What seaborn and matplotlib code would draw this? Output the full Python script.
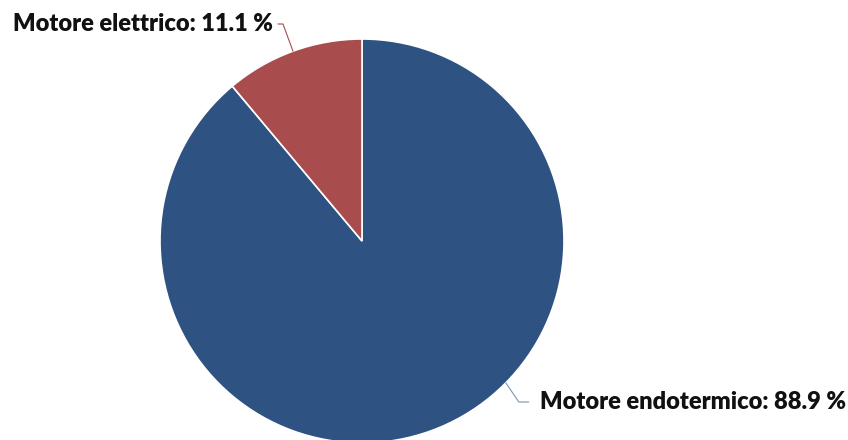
import numpy as np
import matplotlib
matplotlib.use("Agg")
import matplotlib.pyplot as plt
import seaborn as sns

# --- Data --------------------------------------------------------------------
labels = ["Motore endotermico", "Motore elettrico"]
shares = [88.9, 11.1]
colors = ["#2e5281", "#a84c4e"]

# --- Layout (pixel units, y measured upwards) --------------------------------
W, H = 848, 440
CX, CY, R = 362, 440 - 241, 202

sns.set_theme(style="white")
plt.rcParams["font.family"] = ["Lato", "DejaVu Sans"]

fig = plt.figure(figsize=(W / 100, H / 100), dpi=100)
ax = fig.add_axes([0, 0, 1, 1])

wedges, _ = ax.pie(
    shares,
    colors=sns.color_palette(colors),
    startangle=90,
    counterclock=False,
    center=(CX, CY),
    radius=R,
    frame=True,
    wedgeprops=dict(edgecolor="white", linewidth=1.2),
)

ax.set_xlim(0, W)
ax.set_ylim(0, H)
ax.set_aspect("equal")
ax.axis("off")


def edge_point(angle_deg):
    a = np.deg2rad(angle_deg)
    return CX + R * np.cos(a), CY + R * np.sin(a)


# Motore elettrico: connector from the wedge middle, label top-left
w = wedges[1]
mid = (w.theta1 + w.theta2) / 2
x0, y0 = edge_point(mid)
x1, y1 = x0 - 10, H - 24
ax.plot([x0, x1, x1 - 5], [y0, y1, y1], color=colors[1], lw=0.8)
ax.text(x1 - 10, y1, f"{labels[1]}: {shares[1]:.1f} %", ha="right", va="center",
        fontsize=17, fontweight="heavy", color="#111111")

# Motore endotermico: connector lower right, label to the right
x0, y0 = edge_point(-44.6)
x1, y1 = x0 + 13, H - 402
ax.plot([x0, x1, x1 + 10], [y0, y1, y1], color="#7f93ad", lw=0.8)
ax.text(x1 + 21, y1, f"{labels[0]}: {shares[0]:.1f} %", ha="left", va="center",
        fontsize=17, fontweight="heavy", color="#111111")

fig.savefig("out.png", dpi=100)
plt.close(fig)
